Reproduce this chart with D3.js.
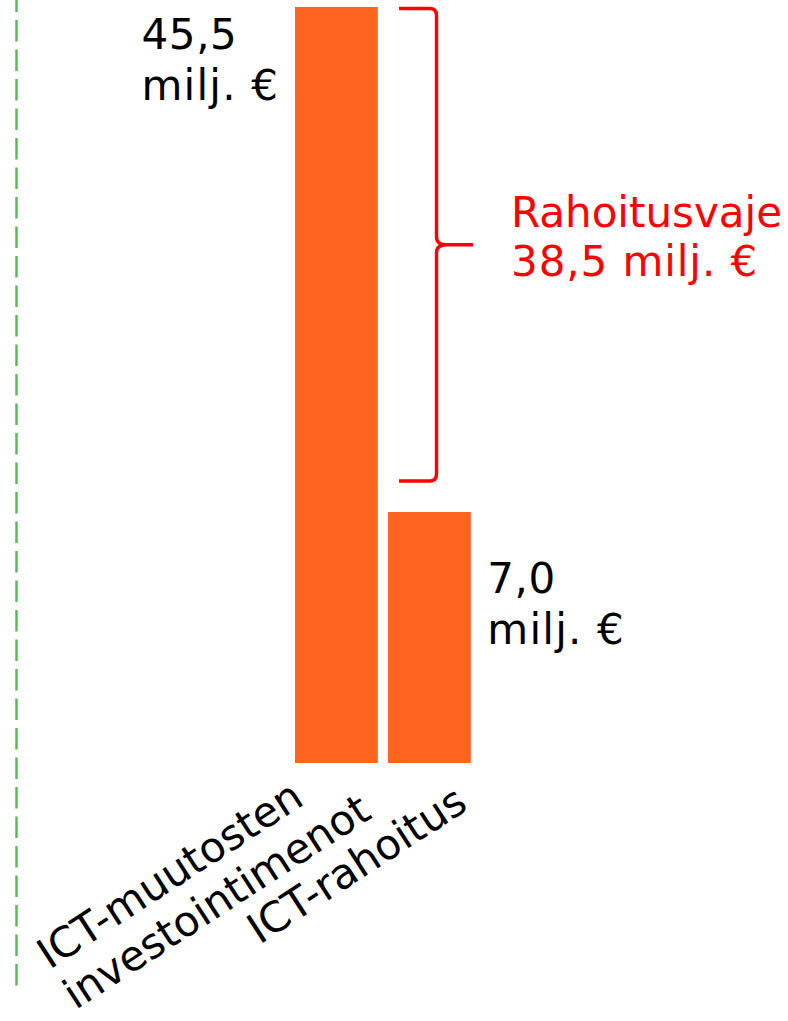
<!DOCTYPE html>
<html><head><meta charset="utf-8">
<script src="https://cdn.jsdelivr.net/npm/d3@7"></script>
<style>
html,body{margin:0;padding:0;background:#fff;}
svg{display:block;font-family:"DejaVu Sans",Verdana,sans-serif;}
</style></head>
<body>
<script>
// ---- data ----
const categories = [["ICT-muutosten","investointimenot"],["ICT-rahoitus"]];
const values = [45.5, 7.0];
const valueLabels = [["45,5","milj. €"],["7,0","milj. €"]];
const gapLabel = ["Rahoitusvaje","38,5 milj. €"];

// ---- layout ----
const W = 788, H = 1021;
const svg = d3.select("body").append("svg").attr("width", W).attr("height", H);

const x = d3.scaleBand().domain(d3.range(categories.length)).range([295, 470.8])
  .paddingInner(0.11).paddingOuter(0);
// chart is not drawn to scale: piecewise (broken) value scale
const y = d3.scaleLinear().domain([0, values[1], values[0]]).range([763, 512, 7]);

// dashed green axis line
svg.append("line").attr("x1",16.5).attr("x2",16.5).attr("y1",y.range()[2]-16.5).attr("y2",990)
  .attr("stroke","#62b662").attr("stroke-width",2.5).attr("stroke-dasharray","21.5 8");

// bars
svg.selectAll("rect.bar").data(values).join("rect").attr("class","bar")
  .attr("x",(d,i)=>x(i)).attr("width",x.bandwidth())
  .attr("y",d=>y(d)).attr("height",d=>y(0)-y(d))
  .attr("fill","#FF6421");

const fs = 42, lh = 51;
function txt(fill){ return svg.append("text").attr("font-size",fs).attr("fill",fill); }
// value labels
const vl0 = txt("#000");
valueLabels[0].forEach((t,k)=>vl0.append("tspan").attr("x",x(0)-153.5).attr("y",y(values[0])+42+k*lh)
  .attr("letter-spacing",k?1.2:0.6).text(t));
const vl1 = txt("#000");
valueLabels[1].forEach((t,k)=>vl1.append("tspan").attr("x",x(1)+x.bandwidth()+16.5).attr("y",y(values[1])+81+k*lh)
  .attr("letter-spacing",k?1.2:0.6).text(t));

// bracket
const bx0 = x(1)+11, bx1 = x(1)+48.5, tip = x(1)+85;
const yt = y(values[0])+1.5, yb = y(values[1])-31, ym = (yt+yb)/2;
const r = 7;
const p = d3.path();
p.moveTo(bx0, yt);
p.lineTo(bx1-r, yt);
p.quadraticCurveTo(bx1, yt, bx1, yt+r);
p.lineTo(bx1, ym-8);
p.quadraticCurveTo(bx1, ym, bx1+10, ym);
p.lineTo(tip, ym);
p.moveTo(bx1+10, ym);
p.quadraticCurveTo(bx1, ym, bx1, ym+8);
p.lineTo(bx1, yb-r);
p.quadraticCurveTo(bx1, yb, bx1-r, yb);
p.lineTo(bx0, yb);
svg.append("path").attr("d",p.toString()).attr("fill","none").attr("stroke","#FF0000")
  .attr("stroke-width",3.4).attr("stroke-linejoin","round");

const gl = txt("#FF0000");
gapLabel.forEach((t,k)=>gl.append("tspan").attr("x",tip+38).attr("y",ym-17.3+k*48.5)
  .attr("letter-spacing",k?0.9:0).text(t));

// category labels (rotated)
const angle = -33;
const catAnchor = [[-287, 207], [-170, 182]]; // offset of first-line start from band centre / baseline
categories.forEach((lines,i)=>{
  const cx = x(i)+x.bandwidth()/2 + catAnchor[i][0];
  const cy = y(0) + catAnchor[i][1];
  const g = svg.append("g").attr("transform",`translate(${cx},${cy}) rotate(${angle})`);
  const t = g.append("text").attr("font-size",fs).attr("fill","#000");
  lines.forEach((s,k)=>t.append("tspan").attr("x",0).attr("y",k*48).text(s));
});
</script>
</body></html>
